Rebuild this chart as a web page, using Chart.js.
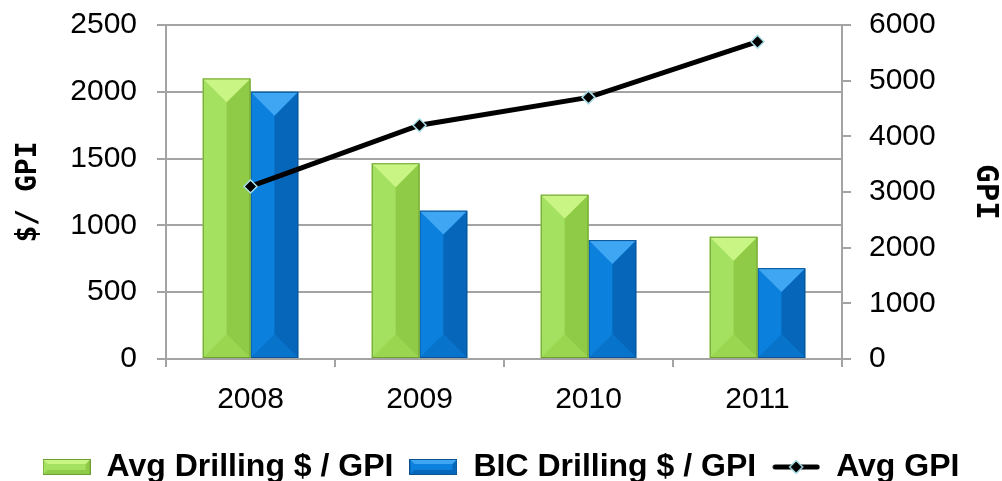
<!DOCTYPE html>
<html>
<head>
<meta charset="utf-8">
<script src="https://cdn.jsdelivr.net/npm/chart.js@4.4.1/dist/chart.umd.min.js"></script>
<style>
  html, body { margin: 0; padding: 0; background: #fff; }
  #wrap { width: 1002px; height: 481px; position: relative; }
</style>
</head>
<body>
<div id="wrap"><canvas id="chart"></canvas></div>
<script>
// dados do gráfico
const years = ['2008', '2009', '2010', '2011'];
const avgDrilling = [2100, 1465, 1230, 915];
const bicDrilling = [2000, 1110, 890, 680];
const avgGpi = [3100, 4200, 4700, 5700];
const leftTicks = [0, 500, 1000, 1500, 2000, 2500];
const rightTicks = [0, 1000, 2000, 3000, 4000, 5000, 6000];

const FONT = "'Liberation Sans', Arial, sans-serif";
const MONO = "'DejaVu Sans Mono', monospace";
const GRID = '#a3a3a3';

// cores do efeito chanfrado (topo, esquerda, direita, base, borda)
const greenBevel = { top: '#c9f585', left: '#a5e160', right: '#8fcb47', bottom: '#9ad650', edge: '#6f9f33' };
const blueBevel = { top: '#3ea6f2', left: '#0b80dd', right: '#0667ba', bottom: '#0873cb', edge: '#0b5394' };

function poly(ctx, pts, color) {
    ctx.beginPath();
    ctx.moveTo(pts[0][0], pts[0][1]);
    for (let i = 1; i < pts.length; i++) ctx.lineTo(pts[i][0], pts[i][1]);
    ctx.closePath();
    ctx.fillStyle = color;
    ctx.fill();
}

function drawBevelBar(ctx, left, right, top, bottom, c) {
    const cx = (left + right) / 2;
    const d = Math.min((right - left) / 2, (bottom - top) / 2);
    poly(ctx, [[left, top], [cx, top + d], [cx, bottom - d], [left, bottom]], c.left);
    poly(ctx, [[right, top], [cx, top + d], [cx, bottom - d], [right, bottom]], c.right);
    poly(ctx, [[left, bottom], [right, bottom], [cx, bottom - d]], c.bottom);
    poly(ctx, [[left, top], [right, top], [cx, top + d]], c.top);
    ctx.strokeStyle = c.edge;
    ctx.lineWidth = 1;
    ctx.strokeRect(left + 0.5, top + 0.5, right - left - 1, bottom - top - 1);
}

// amostras da legenda
function makeBoxSwatch(c) {
    const cv = document.createElement('canvas');
    cv.width = 48; cv.height = 16;
    const ctx = cv.getContext('2d');
    const d = 5;
    poly(ctx, [[0, 0], [48, 0], [48, 16], [0, 16]], c.left);
    poly(ctx, [[48, 0], [48 - d, d], [48 - d, 16 - d], [48, 16]], c.right);
    poly(ctx, [[0, 16], [48, 16], [48 - d, 16 - d], [d, 16 - d]], c.right);
    poly(ctx, [[0, 0], [48, 0], [48 - d, d], [d, d]], c.top);
    ctx.strokeStyle = c.edge;
    ctx.strokeRect(0.5, 0.5, 47, 15);
    return cv;
}

function makeLineSwatch() {
    const cv = document.createElement('canvas');
    cv.width = 48; cv.height = 16;
    const ctx = cv.getContext('2d');
    ctx.strokeStyle = '#000';
    ctx.lineWidth = 5;
    ctx.lineCap = 'round';
    ctx.beginPath();
    ctx.moveTo(3, 8); ctx.lineTo(45, 8);
    ctx.stroke();
    poly(ctx, [[24, 1.5], [30.5, 8], [24, 14.5], [17.5, 8]], '#000');
    ctx.strokeStyle = '#a8dde6';
    ctx.lineWidth = 1.5;
    ctx.stroke();
    return cv;
}

const swatches = [makeBoxSwatch(greenBevel), makeBoxSwatch(blueBevel), makeLineSwatch()];

// plugin que desenha o chanfro das barras
const bevelPlugin = {
    id: 'bevel',
    beforeInit(chart) {
        const fit = chart.legend.fit;
        chart.legend.fit = function () {
            fit.call(this);
            this.height = 46;
        };
    },
    afterDatasetDraw(chart, args) {
        const meta = args.meta;
        if (meta.type !== 'bar') return;
        const colors = meta.index === 0 ? greenBevel : blueBevel;
        const ctx = chart.ctx;
        ctx.save();
        meta.data.forEach(function (bar) {
            const p = bar.getProps(['x', 'y', 'width', 'base'], true);
            drawBevelBar(ctx, p.x - p.width / 2, p.x + p.width / 2, p.y, p.base, colors);
        });
        ctx.restore();
    }
};

const plain = v => String(v);

// largura fixa dos eixos verticais, sem folga extra em cima/embaixo
function fixWidth(w) {
    return function (scale) {
        scale.width = w;
        scale.paddingTop = 0;
        scale.paddingBottom = 0;
    };
}

const ctx = document.getElementById('chart').getContext('2d');
new Chart(ctx, {
    type: 'bar',
    data: {
        labels: years,
        datasets: [
            {
                label: 'Avg Drilling $ / GPI',
                data: avgDrilling,
                backgroundColor: greenBevel.left,
                yAxisID: 'y',
                order: 1,
                categoryPercentage: 0.565,
                barPercentage: 1
            },
            {
                label: 'BIC Drilling $ / GPI',
                data: bicDrilling,
                backgroundColor: blueBevel.left,
                yAxisID: 'y',
                order: 1,
                categoryPercentage: 0.565,
                barPercentage: 1
            },
            {
                type: 'line',
                label: 'Avg GPI',
                data: avgGpi,
                borderColor: '#000',
                borderWidth: 5,
                pointStyle: 'rectRot',
                pointRadius: 6.5,
                pointBackgroundColor: '#000',
                pointBorderColor: '#a8dde6',
                pointBorderWidth: 1.5,
                yAxisID: 'y1',
                order: 0
            }
        ]
    },
    options: {
        responsive: true,
        maintainAspectRatio: false,
        animation: false,
        layout: { padding: { top: 25, left: 0, right: 0, bottom: 0 } },
        plugins: {
            tooltip: { enabled: false },
            legend: {
                position: 'bottom',
                labels: {
                    usePointStyle: true,
                    pointStyleWidth: 48,
                    boxHeight: 16,
                    padding: 16,
                    color: '#000',
                    font: { family: FONT, size: 32, weight: 'bold' },
                    sort: (a, b) => a.datasetIndex - b.datasetIndex,
                    generateLabels(chart) {
                        const items = Chart.defaults.plugins.legend.labels.generateLabels(chart);
                        items.forEach(function (it) { it.pointStyle = swatches[it.datasetIndex]; });
                        return items;
                    }
                }
            }
        },
        scales: {
            x: {
                afterFit(scale) { scale.height = 76; },
                grid: { offset: true, drawOnChartArea: false, color: GRID, lineWidth: 2, tickLength: 8 },
                border: { color: GRID, width: 2 },
                ticks: { color: '#000', padding: 15, font: { family: FONT, size: 30 } }
            },
            y: {
                position: 'left',
                min: 0,
                max: 2500,
                afterFit: fixWidth(166),
                afterBuildTicks(scale) { scale.ticks = leftTicks.map(v => ({ value: v })); },
                grid: { color: GRID, lineWidth: 2, tickLength: 9 },
                border: { color: GRID, width: 2 },
                ticks: { color: '#000', padding: 20, callback: plain, font: { family: FONT, size: 30 } },
                title: {
                    display: true,
                    text: '$/ GPI',
                    color: '#000',
                    padding: { top: 12, bottom: 0 },
                    font: { family: MONO, size: 28, weight: 'bold' }
                }
            },
            y1: {
                position: 'right',
                min: 0,
                max: 6000,
                afterFit: fixWidth(160),
                afterBuildTicks(scale) { scale.ticks = rightTicks.map(v => ({ value: v })); },
                grid: { drawOnChartArea: false, color: GRID, lineWidth: 2, tickLength: 9 },
                border: { color: GRID, width: 2 },
                ticks: { color: '#000', padding: 18, callback: plain, font: { family: FONT, size: 30 } },
                title: {
                    display: true,
                    text: 'GPI',
                    color: '#000',
                    padding: { top: -2, bottom: 0 },
                    font: { family: MONO, size: 31, weight: 'bold' }
                }
            }
        }
    },
    plugins: [bevelPlugin]
});
</script>
</body>
</html>
